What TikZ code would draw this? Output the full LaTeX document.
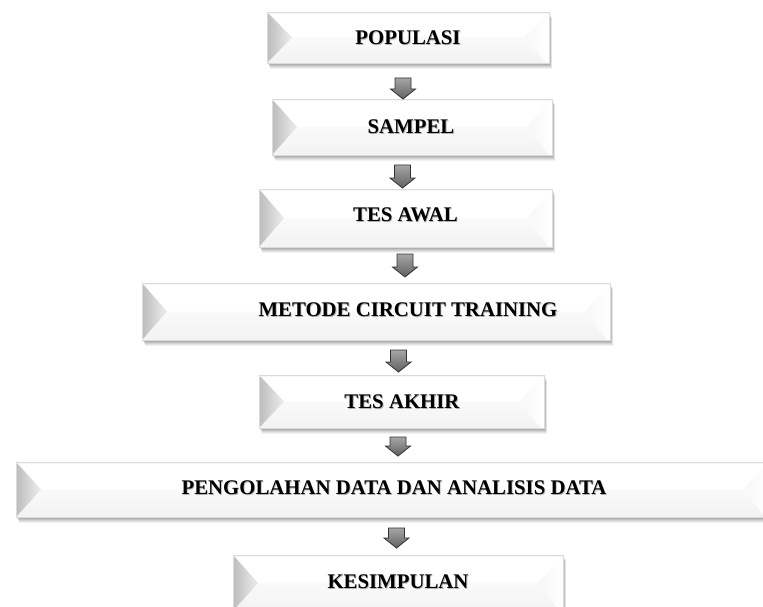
\documentclass[tikz,border=0pt]{standalone}
\usepackage{fontspec}
\setmainfont{Liberation Serif}

\tikzset{
  boxtext/.style={font=\fontsize{20.8}{24}\selectfont\bfseries, inner sep=0pt, text=black, anchor=center},
  boxshadowtext/.style={boxtext, text=black!30},
  flowarrow/.style={draw=black!80, line width=0.8pt, line join=miter,
    top color=black!35, bottom color=black!62},
  boxedge/.style={draw=black!14, line width=0.6pt},
}

% #1 name, #2 L, #3 T, #4 R, #5 B  (y grows downward)
\newcommand\bevbox[5]{%
  \foreach \k/\op in {6/0.05,5/0.06,4/0.07,3/0.08,2/0.09,1/0.10}{%
    \fill[black,opacity=\op] (#2+0.5*\k,#3+\k) rectangle (#4+0.5*\k,#5+\k);
  }%
  \fill[white] (#2,#3) rectangle (#4,#5);
  \shade[top color=black!2, bottom color=black!5]
    (#2+25,{(#3+#5)/2}) -- (#4-25,{(#3+#5)/2}) -- (#4-3,#5) -- (#2,#5) -- cycle;
  \shade[left color=black!3, right color=white]
    (#4-25,{(#3+#5)/2}) -- (#4,#3) -- (#4,#5) -- (#4-3,#5) -- cycle;
  \shade[left color=black!26, right color=black!7]
    (#2,#3) -- (#2+25,{(#3+#5)/2}) -- (#2,#5) -- cycle;
  \fill[black!4] (#2,#3) rectangle (#4,#3+2);
  \draw[boxedge] (#2,#3) rectangle (#4,#5);
  \coordinate (#1-n) at ({(#2+#4)/2},#3);
  \coordinate (#1-s) at ({(#2+#4)/2},#5);
}

\newcommand\boxlabel[4]{% #1 name, #2 x, #3 y, #4 text
  \node[boxshadowtext] at (#2+0.8,#3+1) {#4};
  \node[boxtext] (#1) at (#2,#3) {#4};
}

% block arrow: #1 name, #2 x centre, #3 top y, #4 bottom y
\newcommand\blockarrow[4]{%
  \coordinate (#1) at (#2,{(#3+#4)/2});
  \shade[flowarrow]
    (#2-8,#3) -- (#2+8,#3) -- (#2+8,#4-10) -- (#2+12.5,#4-10) -- (#2,#4)
    -- (#2-12.5,#4-10) -- (#2-8,#4-10) -- cycle;
}

\begin{document}
\begin{tikzpicture}[x=1pt,y=-1pt]
  \useasboundingbox (0,0) rectangle (763,607);
  \fill[white] (0,0) rectangle (763,607);

  \bevbox{b1}{267}{12}{549}{63}
  \boxlabel{t1}{408}{38}{POPULASI}

  \bevbox{b2}{272}{99}{552}{155}
  \boxlabel{t2}{411}{127}{SAMPEL}

  \bevbox{b3}{259}{189}{552}{247}
  \boxlabel{t3}{405.5}{215}{TES AWAL}

  \bevbox{b4}{142}{283}{610}{340}
  \boxlabel{t4}{408}{309.5}{METODE CIRCUIT TRAINING}

  \bevbox{b5}{259}{375}{544}{428}
  \boxlabel{t5}{402}{401.5}{TES AKHIR}

  \bevbox{b6}{16}{462}{768}{517}
  \boxlabel{t6}{394}{487.5}{PENGOLAHAN DATA DAN ANALISIS DATA}

  \bevbox{b7}{233}{555}{563}{611}
  \boxlabel{t7}{398}{582}{KESIMPULAN}

  \blockarrow{a1}{403}{78}{99}
  \blockarrow{a2}{402.5}{165}{188}
  \blockarrow{a3}{405}{254}{277}
  \blockarrow{a4}{398.5}{350}{372}
  \blockarrow{a5}{398}{437}{456}
  \blockarrow{a6}{396.5}{528}{548}
\end{tikzpicture}
\end{document}
